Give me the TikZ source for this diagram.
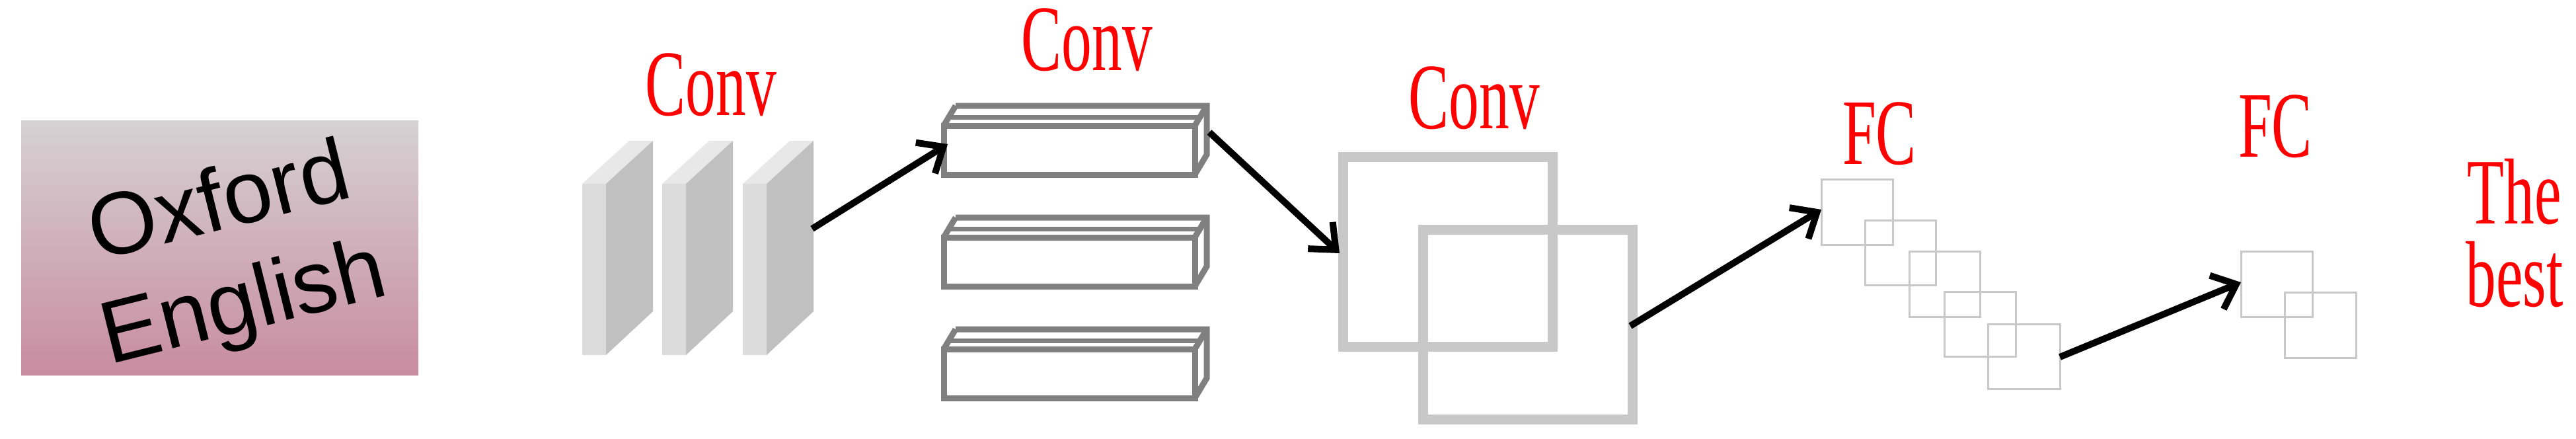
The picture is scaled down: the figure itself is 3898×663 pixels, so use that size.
\documentclass[tikz,border=0pt]{standalone}
\usepackage{fontspec}
\setmainfont{Liberation Serif}
\newfontfamily\photofont{Liberation Sans}
\usetikzlibrary{arrows.meta}
\definecolor{slabF}{HTML}{DCDCDC}
\definecolor{slabS}{HTML}{C0C0C0}
\definecolor{slabT}{HTML}{E8E8E8}
\definecolor{boxG}{HTML}{808080}
\definecolor{lg}{HTML}{C8C8C8}
\tikzset{
  lbl/.style={text=red,font=\fontsize{26}{30}\selectfont,inner sep=0pt,yscale=1.55},
  flow/.style={line width=0.1cm,-{Straight Barb[length=0.32cm,width=0.55cm,line width=0.1cm]}},
  thickbox/.style={draw=boxG,line width=0.09cm},
  bigsq/.style={draw=lg,line width=0.15cm},
  fcsq/.style={draw=lg,line width=0.03cm},
}
\begin{document}
\begin{tikzpicture}[x=0.01cm,y=-0.01cm]
\useasboundingbox (0,0) rectangle (3898,663);
% photo
\shade[top color={rgb,255:red,214;green,210;blue,212},bottom color={rgb,255:red,200;green,140;blue,160}] (32,182) rectangle (633,567);
\node[font=\photofont\fontsize{38}{38}\selectfont,rotate=14,inner sep=0pt] (ox) at (330,300) {Oxford};
\node[font=\photofont\fontsize{38}{38}\selectfont,rotate=14,inner sep=0pt] (en) at (370,465) {English};
% slabs
\foreach \x/\n in {881/s1,1002/s2,1124/s3}{
  \fill[slabT] (\x,278) -- (\x+36,278) -- (\x+107,213) -- (\x+71,213) -- cycle;
  \fill[slabS] (\x+36,278) -- (\x+107,213) -- (\x+107,471) -- (\x+36,537) -- cycle;
  \fill[slabF] (\x,278) rectangle (\x+36,537);
  \coordinate (\n) at (\x+107,350);
}
\node[lbl] (c1) at (1076,128) {Conv};
% boxes
\foreach \y/\n in {190/b1,359/b2,528/b3}{
  \draw[thickbox] (1446,\y-30) -- (1826,\y-30) -- (1826,\y+44) -- (1808,\y+74);
  \draw[thickbox] (1428,\y) -- (1446,\y-30);
  \draw[thickbox] (1808,\y) -- (1826,\y-30);
  \draw[draw=boxG,line width=0.07cm] (1434,\y-13) -- (1818,\y-13);
  \draw[thickbox] (1428,\y) rectangle (1808,\y+74);
  \coordinate (\n) at (1428,\y+20);
  \coordinate (\n e) at (1830,\y+10);
}
\node[lbl] (c2) at (1645,60) {Conv};
% big squares
\draw[bigsq] (2032,237) rectangle (2349,524);
\draw[bigsq] (2153,347) rectangle (2470,634);
\coordinate (q1) at (2027,383);
\coordinate (q2) at (2467,493);
\node[lbl] (c3) at (2231,148) {Conv};
% FC squares
\foreach \a/\b/\c/\d/\n in {2756/271/2864/370/f1,2822/333/2929/431/f2,2889/380/2996/479/f3,2942/441/3050/539/f4,3008/490/3117/588/f5,3391/380/3499/479/g1,3457/442/3565/541/g2}{
  \draw[fcsq] (\a,\b) rectangle (\c,\d);
}
\coordinate (f1w) at (2756,317);
\coordinate (f5e) at (3117,540);
\coordinate (g1w) at (3391,427);
\node[lbl] (fc1) at (2844,202) {FC};
\node[lbl] (fc2) at (3443,191) {FC};
\node[lbl] (the) at (3805,290) {The};
\node[lbl] (best) at (3805,415) {best};
% arrows
\draw[flow] (1229,346) -- (1434,218);
\draw[flow] (b1e) -- (q1);
\draw[flow] (q2) -- (f1w);
\draw[flow] (f5e) -- (g1w);
\end{tikzpicture}
\end{document}
